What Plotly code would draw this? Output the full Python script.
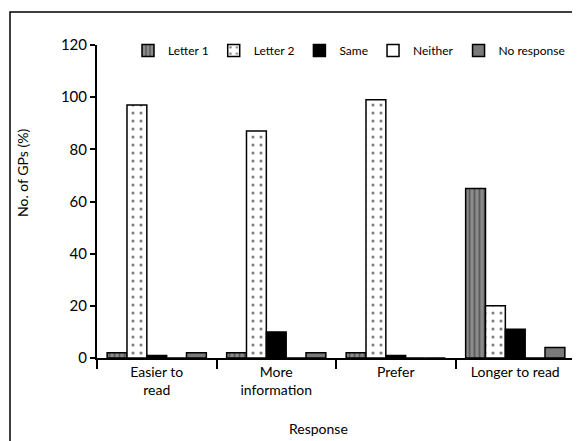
import plotly.graph_objects as go

categories = ["Easier to<br>read", "More<br>information", "Prefer", "Longer to read"]
series_names = ["Letter 1", "Letter 2", "Same", "Neither", "No response"]
letter1 = [2, 2, 2, 65]
letter2 = [97, 87, 99, 20]
same = [1, 10, 1, 11]
neither = [0, 0, 0, 0]
no_response = [2, 2, 0, 4]
y_ticks = [0, 20, 40, 60, 80, 100, 120]

FONT = "Lato, 'Open Sans', sans-serif"
line = dict(color="black", width=1.5)

fig = go.Figure()
fig.add_trace(go.Bar(name=series_names[0], x=categories, y=letter1,
                     marker=dict(color="#777777", line=line,
                                 pattern=dict(shape="|", fgcolor="#2a2a2a", bgcolor="#8a8a8a",
                                              size=5, solidity=0.35))))
fig.add_trace(go.Bar(name=series_names[1], x=categories, y=letter2,
                     marker=dict(color="white", line=line,
                                 pattern=dict(shape=".", fgcolor="black", bgcolor="white",
                                              size=8, solidity=0.12))))
fig.add_trace(go.Bar(name=series_names[2], x=categories, y=same,
                     marker=dict(color="black", line=line)))
fig.add_trace(go.Bar(name=series_names[3], x=categories, y=neither,
                     marker=dict(color="white", line=line)))
fig.add_trace(go.Bar(name=series_names[4], x=categories, y=no_response,
                     marker=dict(color="#7a7a7a", line=line)))

OFF = 8  # page body margin offset
W, H = 580 - OFF, 441 - OFF
ml, mr, mt, mb = 97 - OFF, 5, 45 - OFF, 83
pw, ph = W - ml - mr, H - mt - mb

def px_x(p):
    return (p - OFF - ml) / pw

def px_y(p):
    return (H - mb - (p - OFF)) / ph

fig.update_layout(
    width=W, height=H,
    margin=dict(l=ml, r=mr, t=mt, b=mb),
    paper_bgcolor="white", plot_bgcolor="white",
    barmode="group", bargap=0.17, bargroupgap=0,
    font=dict(family=FONT, color="black", size=14),
    legend=dict(orientation="h", x=px_x(128), y=px_y(36), xanchor="left", yanchor="top",
                font=dict(size=12), bgcolor="rgba(0,0,0,0)", tracegroupgap=0,
                itemwidth=30),
    xaxis=dict(showline=True, linecolor="black", linewidth=2, ticks="outside",
               tickson="boundaries", ticklen=9, tickwidth=2, tickcolor="black",
               showgrid=False, tickfont=dict(size=14)),
    yaxis=dict(range=[0, 120], tickvals=y_ticks, showline=True, linecolor="black",
               linewidth=2, ticks="outside", ticklen=5, tickwidth=2, tickcolor="black",
               showgrid=False, zeroline=False, tickfont=dict(size=15), ticksuffix="  "),
    shapes=[dict(type="rect", xref="paper", yref="paper",
                 x0=px_x(10), x1=px_x(620), y0=px_y(480), y1=px_y(12),
                 line=dict(color="black", width=1.5), fillcolor="rgba(0,0,0,0)", layer="below")],
    annotations=[
        dict(text="Response", xref="paper", yref="paper", x=px_x(318), y=px_y(428),
             showarrow=False, font=dict(size=14), xanchor="center", yanchor="middle"),
        dict(text="No. of GPs (%)", xref="paper", yref="paper", x=px_x(22), y=px_y(173),
             showarrow=False, font=dict(size=14), textangle=-90,
             xanchor="center", yanchor="middle"),
    ],
)

fig.write_html("out.html")
